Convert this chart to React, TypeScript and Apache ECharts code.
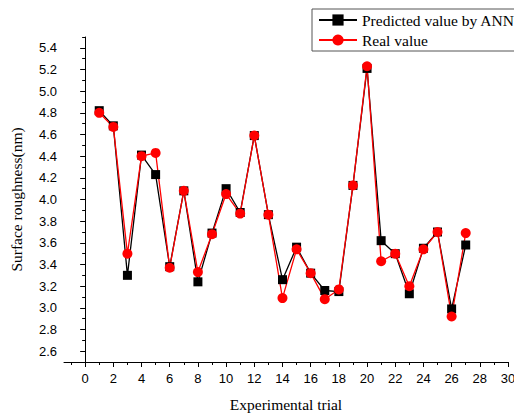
import React, { useEffect, useRef } from "react";
import * as echarts from "echarts";

const trials = [1, 2, 3, 4, 5, 6, 7, 8, 9, 10, 11, 12, 13, 14, 15, 16, 17, 18, 19, 20, 21, 22, 23, 24, 25, 26, 27];
const predictedANN = [4.82, 4.68, 3.30, 4.41, 4.23, 3.38, 4.08, 3.24, 3.69, 4.10, 3.88, 4.59, 3.86, 3.26, 3.56, 3.32, 3.16, 3.15, 4.13, 5.21, 3.62, 3.50, 3.13, 3.55, 3.70, 2.99, 3.58];
const realValue = [4.80, 4.67, 3.50, 4.40, 4.43, 3.37, 4.08, 3.33, 3.68, 4.05, 3.87, 4.59, 3.86, 3.09, 3.54, 3.32, 3.08, 3.17, 4.13, 5.23, 3.43, 3.50, 3.20, 3.54, 3.70, 2.92, 3.69];

const xMajorTicks = [0, 2, 4, 6, 8, 10, 12, 14, 16, 18, 20, 22, 24, 26, 28, 30];
const xMinorTicks = [-1, 1, 3, 5, 7, 9, 11, 13, 15, 17, 19, 21, 23, 25, 27, 29];
const yMajorTicks = [2.6, 2.8, 3.0, 3.2, 3.4, 3.6, 3.8, 4.0, 4.2, 4.4, 4.6, 4.8, 5.0, 5.2, 5.4];
const yMinorTicks = [2.5, 2.7, 2.9, 3.1, 3.3, 3.5, 3.7, 3.9, 4.1, 4.3, 4.5, 4.7, 4.9, 5.1, 5.3, 5.5];

const seriesNames = ["Predicted value by ANN", "Real value"];

export default function App() {
  const ref = useRef<HTMLDivElement>(null);
  useEffect(() => {
    if (!ref.current) return;
    const chart = echarts.init(ref.current, undefined, { renderer: "svg" });
    const sans = "Liberation Sans";
    const serif = "Liberation Serif";
    const axisLineStyle = { show: true, lineStyle: { color: "#000", width: 1 } };
    chart.setOption({
      animation: false,
      backgroundColor: "#fff",
      grid: { left: 64, right: 6, top: 37, bottom: 52, containLabel: false, outerBoundsMode: "none" },
      legend: {
        orient: "vertical",
        left: 312,
        top: 9,
        data: seriesNames,
        borderColor: "#555",
        borderWidth: 1,
        padding: [3, 5, 3, 6],
        itemGap: 4,
        itemWidth: 38,
        itemHeight: 14,
        textStyle: { fontFamily: serif, fontSize: 15.5, color: "#000" },
      },
      xAxis: [
        {
          type: "value",
          min: -1.5,
          max: 30,
          position: "bottom",
          name: "Experimental trial",
          nameLocation: "middle",
          nameGap: 34,
          nameTextStyle: { fontFamily: serif, fontSize: 15.5, color: "#000" },
          axisLine: axisLineStyle,
          axisTick: { show: true, length: 5, customValues: xMajorTicks, lineStyle: { color: "#000" } },
          axisLabel: {
            customValues: xMajorTicks,
            fontFamily: sans,
            fontSize: 13,
            color: "#000",
            margin: 10,
            formatter: (v: number) => String(v),
          },
          splitLine: { show: false },
        },
        {
          type: "value",
          min: -1.5,
          max: 30,
          position: "bottom",
          axisLine: { show: false },
          axisTick: { show: true, length: 3, customValues: xMinorTicks, lineStyle: { color: "#000" } },
          axisLabel: { show: false },
          splitLine: { show: false },
        },
      ],
      yAxis: [
        {
          type: "value",
          min: 2.5,
          max: 5.5,
          position: "left",
          name: "Surface roughness(nm)",
          nameLocation: "middle",
          nameGap: 40,
          nameTextStyle: { fontFamily: serif, fontSize: 15.5, color: "#000" },
          axisLine: axisLineStyle,
          axisTick: { show: true, length: 5, customValues: yMajorTicks, lineStyle: { color: "#000" } },
          axisLabel: {
            customValues: yMajorTicks,
            fontFamily: sans,
            fontSize: 13,
            color: "#000",
            margin: 7,
            formatter: (v: number) => v.toFixed(1),
          },
          splitLine: { show: false },
        },
        {
          type: "value",
          min: 2.5,
          max: 5.5,
          position: "left",
          axisLine: { show: false },
          axisTick: { show: true, length: 3, customValues: yMinorTicks, lineStyle: { color: "#000" } },
          axisLabel: { show: false },
          splitLine: { show: false },
        },
      ],
      series: [
        {
          name: seriesNames[0],
          type: "line",
          xAxisIndex: 0,
          yAxisIndex: 0,
          data: trials.map((t, i) => [t, predictedANN[i]]),
          symbol: "rect",
          symbolSize: 9,
          itemStyle: { color: "#000" },
          lineStyle: { color: "#000", width: 1.3 },
        },
        {
          name: seriesNames[1],
          type: "line",
          xAxisIndex: 0,
          yAxisIndex: 0,
          data: trials.map((t, i) => [t, realValue[i]]),
          symbol: "circle",
          symbolSize: 10,
          itemStyle: { color: "#ff0000" },
          lineStyle: { color: "#ff0000", width: 1.3 },
        },
      ],
    });
    return () => chart.dispose();
  }, []);
  return (
    <div
      ref={ref}
      style={{ position: "fixed", left: 0, top: 0, width: 514, height: 414 }}
    />
  );
}
